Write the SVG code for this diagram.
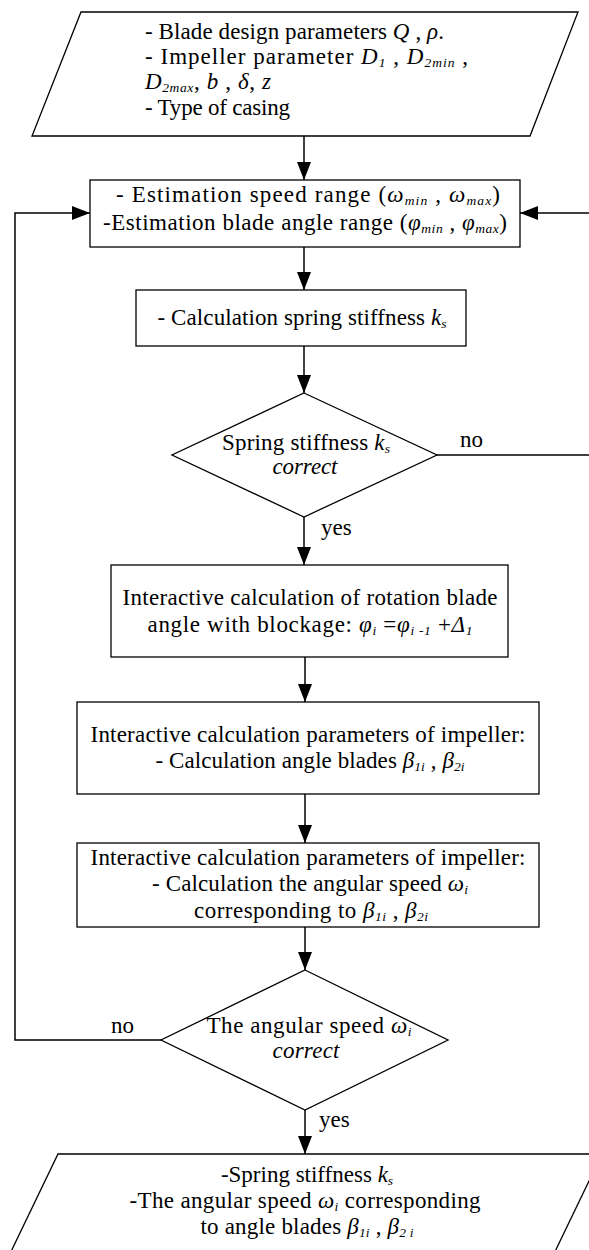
<svg xmlns="http://www.w3.org/2000/svg" width="589" height="1250" viewBox="0 0 589 1250">
<defs>
<marker id="ah" markerUnits="userSpaceOnUse" markerWidth="19" markerHeight="14" refX="18" refY="7" orient="auto">
<path d="M0,0 L18,7 L0,14 z" fill="#000"/>
</marker>
<style>
.shape{fill:#fff;stroke:#000;stroke-width:1.3}
.conn{fill:none;stroke:#000;stroke-width:1.5}
text{font-family:"Liberation Serif","Times New Roman",serif;font-size:23px;fill:#000}
.c{text-anchor:middle}
.i{font-style:italic}
.sb{font-style:italic;font-size:13.5px;baseline-shift:-3px}
</style>
</defs>
<rect width="589" height="1250" fill="#fff"/>
<g id="connectors">
<path class="conn" d="M304,136 V180" marker-end="url(#ah)"/>
<path class="conn" d="M304,247 V290" marker-end="url(#ah)"/>
<path class="conn" d="M304,346 V393" marker-end="url(#ah)"/>
<path class="conn" d="M304,517 V565" marker-end="url(#ah)"/>
<path class="conn" d="M305,657 V702" marker-end="url(#ah)"/>
<path class="conn" d="M305,794 V843" marker-end="url(#ah)"/>
<path class="conn" d="M305,927 V970" marker-end="url(#ah)"/>
<path class="conn" d="M305,1110 V1154" marker-end="url(#ah)"/>
<path class="conn" d="M437,455 H600 V213 H520" marker-end="url(#ah)"/>
<path class="conn" d="M161,1040 H15 V213 H90" marker-end="url(#ah)"/>
<text x="460" y="447">no</text>
<text x="321" y="535">yes</text>
<text x="111" y="1033">no</text>
<text x="319" y="1127">yes</text>
</g>
<g id="input">
<polygon class="shape" points="81,12 578,12 530,136 32,136"/>
<text x="145" y="39" textLength="299">- Blade design parameters <tspan class="i">Q</tspan> , <tspan class="i">ρ</tspan>.</text>
<text x="145" y="64" textLength="323">- Impeller parameter <tspan class="i">D</tspan><tspan class="sb">1</tspan> , <tspan class="i">D</tspan><tspan class="sb">2min</tspan> ,</text>
<text x="145" y="89" textLength="126"><tspan class="i">D</tspan><tspan class="sb">2max</tspan>, <tspan class="i">b</tspan> , <tspan class="i">δ</tspan>, <tspan class="i">z</tspan></text>
<text x="145" y="115" textLength="145">- Type of casing</text>
</g>
<g id="estimation">
<rect class="shape" x="90" y="180" width="430" height="67"/>
<text class="c" x="308" y="202" textLength="384">- Estimation speed range (<tspan class="i">ω</tspan><tspan class="sb">min</tspan> , <tspan class="i">ω</tspan><tspan class="sb">max</tspan>)</text>
<text class="c" x="305" y="230" textLength="404">-Estimation blade angle range  (<tspan class="i">φ</tspan><tspan class="sb">min</tspan> , <tspan class="i">φ</tspan><tspan class="sb">max</tspan>)</text>
</g>
<g id="stiffness">
<rect class="shape" x="136" y="290" width="330" height="56"/>
<text class="c" x="302" y="325" textLength="289">- Calculation spring stiffness <tspan class="i">k</tspan><tspan class="sb">s</tspan></text>
</g>
<g id="check-stiffness">
<polygon class="shape" points="304,393 437,455 304,517 172,455"/>
<text class="c" x="306" y="450" textLength="168">Spring stiffness <tspan class="i">k</tspan><tspan class="sb">s</tspan></text>
<text class="c i" x="305" y="474" textLength="65">correct</text>
</g>
<g id="rotation">
<rect class="shape" x="111" y="565" width="397" height="92"/>
<text class="c" x="310" y="605" textLength="375">Interactive calculation of  rotation blade</text>
<text class="c" x="310" y="632" textLength="325">angle with blockage: <tspan class="i">φ</tspan><tspan class="sb">i</tspan> =<tspan class="i">φ</tspan><tspan class="sb">i -1</tspan> +<tspan class="i">Δ</tspan><tspan class="sb">1</tspan></text>
</g>
<g id="blade-angles">
<rect class="shape" x="77" y="702" width="462" height="92"/>
<text class="c" x="308" y="742" textLength="435">Interactive calculation parameters of impeller:</text>
<text class="c" x="310" y="768" textLength="309">- Calculation angle blades <tspan class="i">β</tspan><tspan class="sb">1i</tspan> , <tspan class="i">β</tspan><tspan class="sb">2i</tspan></text>
</g>
<g id="angular-speed">
<rect class="shape" x="77" y="843" width="462" height="84"/>
<text class="c" x="308" y="865" textLength="435">Interactive calculation parameters of impeller:</text>
<text class="c" x="310" y="891" textLength="316">- Calculation the angular speed <tspan class="i">ω</tspan><tspan class="sb">i</tspan></text>
<text class="c" x="311" y="918" textLength="234">corresponding to <tspan class="i">β</tspan><tspan class="sb">1i</tspan> , <tspan class="i">β</tspan><tspan class="sb">2i</tspan></text>
</g>
<g id="check-speed">
<polygon class="shape" points="305,970 448,1040 305,1110 161,1040"/>
<text class="c" x="309" y="1033" textLength="205">The angular speed <tspan class="i">ω</tspan><tspan class="sb">i</tspan></text>
<text class="c i" x="306" y="1058" textLength="67">correct</text>
</g>
<g id="output">
<polygon class="shape" points="58,1154 602,1154 550,1262 6,1262"/>
<text class="c" x="307" y="1182">-Spring stiffness <tspan class="i">k</tspan><tspan class="sb">s</tspan></text>
<text class="c" x="305" y="1208" textLength="351">-The angular speed <tspan class="i">ω</tspan><tspan class="sb">i</tspan> corresponding</text>
<text class="c" x="307" y="1234" textLength="213">to angle blades <tspan class="i">β</tspan><tspan class="sb">1i</tspan> , <tspan class="i">β</tspan><tspan class="sb">2 i</tspan></text>
</g>
</svg>
